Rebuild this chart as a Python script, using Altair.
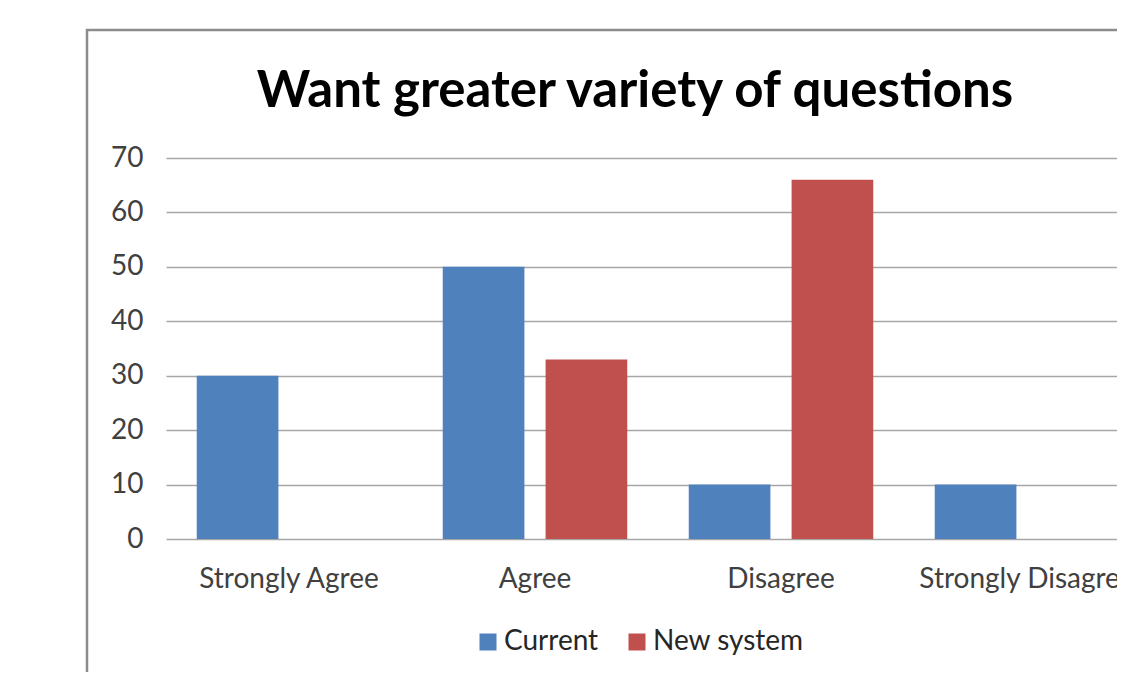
import altair as alt
import pandas as pd

categories = ["Strongly Agree", "Agree", "Disagree", "Strongly Disagree"]
series = ["Current", "New system"]
current = [30, 50, 10, 10]
new_system = [0, 33, 66, 0]
y_ticks = [0, 10, 20, 30, 40, 50, 60, 70]
title_text = "Want greater variety of questions"
colors = ["#4F81BD", "#C0504D"]

rows = []
for cat, a, b in zip(categories, current, new_system):
    rows.append({"Response": cat, "Series": series[0], "Value": a})
    rows.append({"Response": cat, "Series": series[1], "Value": b})
df = pd.DataFrame(rows)

FONT = "Lato"
W, H = 984, 381
PL = 158
PT = 150

border = alt.Chart(pd.DataFrame({"k": [0]})).mark_rect(
    fillOpacity=0, stroke="#8c8c8c", strokeWidth=2.5
).encode(
    x=alt.value(87 - 8 - PL), x2=alt.value(1200), y=alt.value(30 - 8 - PT), y2=alt.value(700)
)

title = alt.Chart(pd.DataFrame({"t": [title_text]})).mark_text(
    font=FONT, fontSize=51, fontWeight="bold", color="black",
    align="center", baseline="alphabetic"
).encode(text="t:N", x=alt.value(635 - 8 - PL), y=alt.value(-51))

bars = alt.Chart(df).mark_bar().encode(
    x=alt.X("Response:N", sort=categories,
            scale=alt.Scale(paddingInner=0.25, paddingOuter=0.125),
            axis=alt.Axis(title=None, labelAngle=0, ticks=False, domain=False,
                          labelFont=FONT, labelFontSize=28, labelColor="#404040",
                          labelPadding=26, labelLimit=0, grid=False)),
    xOffset=alt.XOffset("Series:N", sort=series,
                        scale=alt.Scale(paddingInner=0.206, paddingOuter=0)),
    y=alt.Y("Value:Q", scale=alt.Scale(domain=[0, 70], nice=False),
            axis=alt.Axis(title=None, values=y_ticks, ticks=False, domain=False,
                          labelFont=FONT, labelFontSize=28, labelColor="#404040",
                          labelPadding=23, gridColor="#a6a6a6", gridWidth=1.5)),
    color=alt.Color("Series:N", sort=series,
                    scale=alt.Scale(domain=series, range=colors),
                    legend=alt.Legend(orient="none", legendX=480 - 8 - PL - 6,
                                      legendY=470,
                                      direction="horizontal", title=None,
                                      symbolType="square", symbolSize=289,
                                      symbolStrokeWidth=0, labelFont=FONT,
                                      labelFontSize=28, labelColor="#262626",
                                      labelOffset=2, columnPadding=24)),
)

chart = alt.layer(border, title, bars).properties(
    width=W, height=H,
    autosize=alt.AutoSizeParams(type="none"),
    padding={"left": PL, "top": PT, "right": 1109 - PL - W, "bottom": 133},
).configure_view(strokeOpacity=0)

chart.save("out.html", embed_options={"renderer": "svg", "actions": False})
